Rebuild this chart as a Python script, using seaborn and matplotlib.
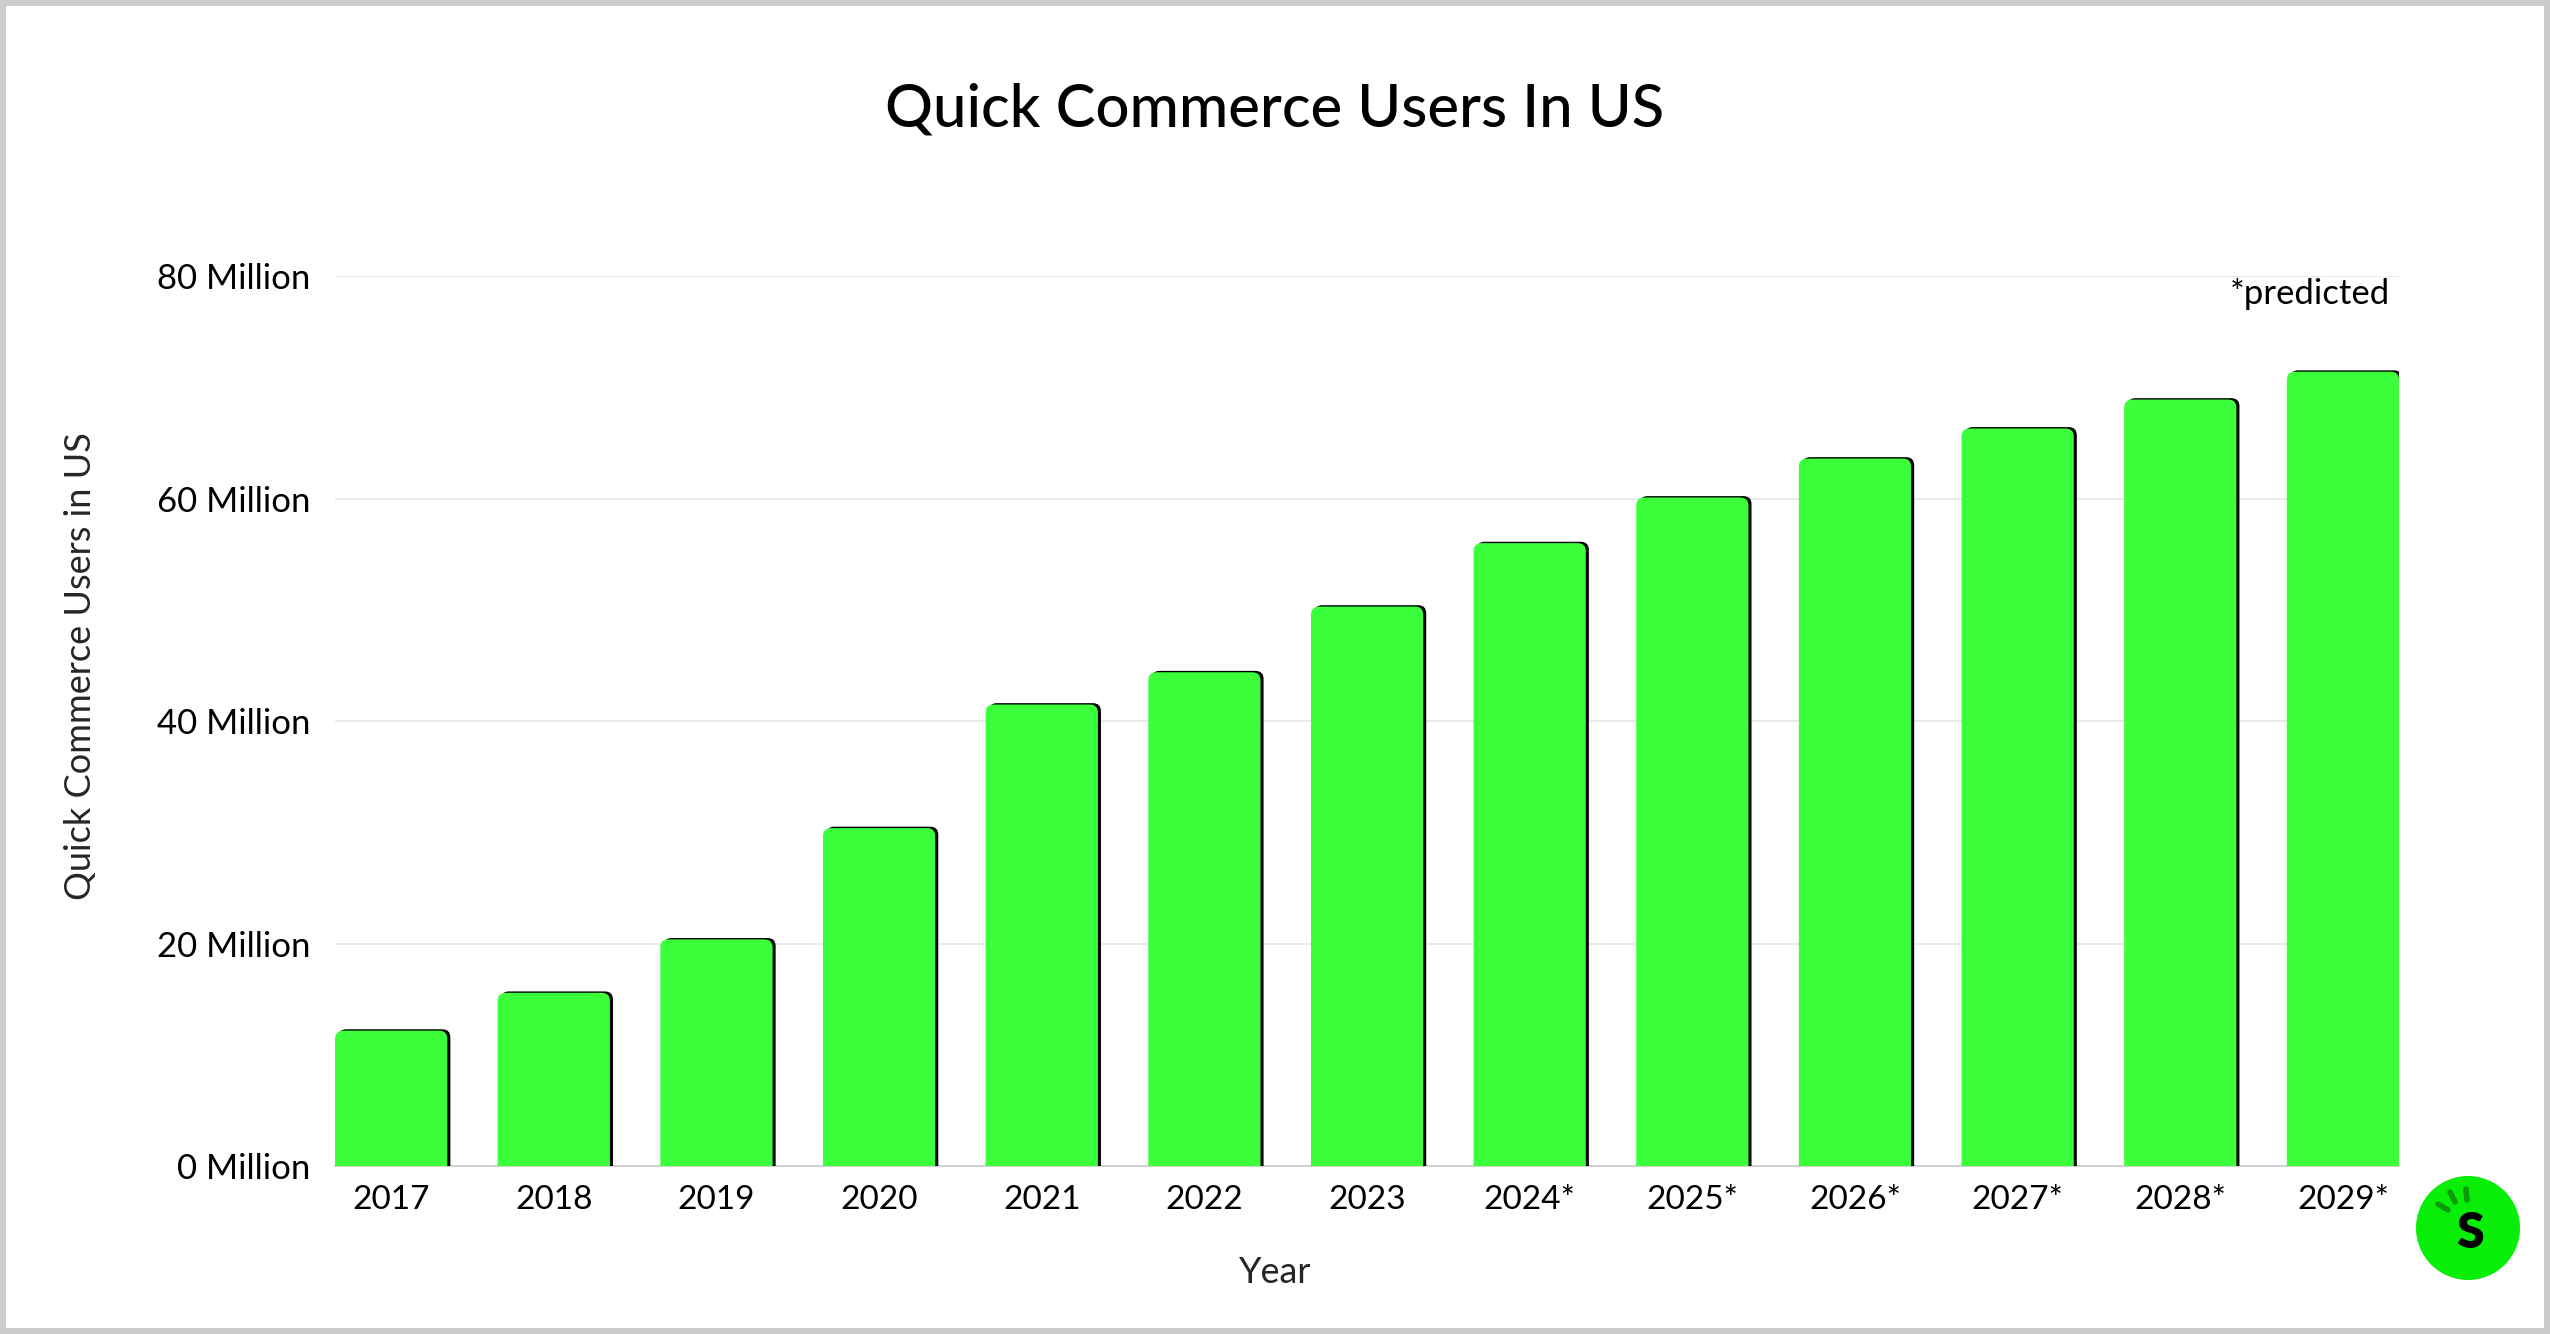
import matplotlib
matplotlib.use("Agg")
import matplotlib.pyplot as plt
import matplotlib.patheffects as pe
from matplotlib.patches import FancyBboxPatch, Rectangle, Circle
import pandas as pd
import seaborn as sns

# values (millions of users)
years = ["2017", "2018", "2019", "2020", "2021", "2022", "2023",
         "2024*", "2025*", "2026*", "2027*", "2028*", "2029*"]
users = [12.2, 15.6, 20.4, 30.4, 41.5, 44.4, 50.3,
         56.0, 60.1, 63.6, 66.3, 68.9, 71.4]
y_ticks = [0, 20, 40, 60, 80]
y_tick_labels = [f"{v} Million" for v in y_ticks]

BAR_GREEN = "#3aff3a"
LOGO_GREEN = "#08ee08"

sns.set_theme(style="white")
plt.rcParams["font.family"] = ["Lato", "DejaVu Sans"]
plt.rcParams["text.color"] = "black"

fig = plt.figure(figsize=(25.5, 13.34), dpi=100)
ax = fig.add_axes([0.1314, 0.1256, 0.8094, 0.6675])

df = pd.DataFrame({"Year": years, "Users": users})
sns.barplot(data=df, x="Year", y="Users", color=BAR_GREEN, saturation=1,
            width=0.69, ax=ax)

# swap the flat bars for ones with rounded tops and a dark drop shadow
shadow = [pe.SimplePatchShadow(offset=(2.2, 1.0), shadow_rgbFace="black", alpha=1.0),
          pe.Normal()]
for bar in list(ax.patches):
    x, w, h = bar.get_x(), bar.get_width(), bar.get_height()
    bar.set_visible(False)
    ax.add_patch(FancyBboxPatch((x, -5), w, h + 5,
                                boxstyle="round,pad=0,rounding_size=0.05",
                                mutation_aspect=14.6, facecolor=BAR_GREEN,
                                edgecolor="none", zorder=3, path_effects=shadow))

ax.set_xlim(-0.345, 12.345)
ax.set_ylim(0, 80)
ax.set_yticks(y_ticks)
ax.set_yticklabels(y_tick_labels)
ax.grid(axis="y", color="#e4e4e4", linewidth=1.1)
ax.set_axisbelow(True)
for side in ["top", "right", "left"]:
    ax.spines[side].set_visible(False)
ax.spines["bottom"].set_color("#cfcfcf")
ax.spines["bottom"].set_linewidth(1.3)
ax.tick_params(axis="both", length=0, colors="black")
ax.tick_params(axis="y", pad=18, labelsize=25)
ax.tick_params(axis="x", pad=13, labelsize=24)

ax.set_xlabel("Year", fontsize=26)
ax.xaxis.label.set_va("center")
ax.xaxis.set_label_coords(0.4554, -0.1196)
ax.set_ylabel("Quick Commerce Users in US", fontsize=26)
ax.yaxis.label.set_va("center")
ax.yaxis.set_label_coords(-0.1235, 0.562)

ax.text(0.9956, 0.98, "*predicted", transform=ax.transAxes,
        ha="right", va="center", fontsize=25)

fig.text(0.5, 0.918, "Quick Commerce Users In US", ha="center", va="center",
         fontsize=43, fontweight="medium")

# small logo in the lower-right corner
fig.add_artist(Circle((24.68, 1.06), 0.52, transform=fig.dpi_scale_trans,
                      facecolor=LOGO_GREEN, edgecolor="none"))
fig.text(24.70 / 25.5, 1.00 / 13.34, "S", ha="center", va="center",
         fontsize=36, fontweight="heavy", color="black")
for (x0, y0, x1, y1) in [(24.38, 1.30, 24.48, 1.24), (24.50, 1.42, 24.55, 1.32),
                         (24.66, 1.45, 24.67, 1.34)]:
    fig.add_artist(plt.Line2D([x0, x1], [y0, y1], transform=fig.dpi_scale_trans,
                              color="#0a9a0a", linewidth=4, solid_capstyle="round"))

# grey frame round the whole picture
fig.add_artist(Rectangle((0, 0), 1, 1, transform=fig.transFigure, fill=False,
                         edgecolor="#cccccc", linewidth=8.6, clip_on=False))

fig.savefig("out.png", dpi=100)
